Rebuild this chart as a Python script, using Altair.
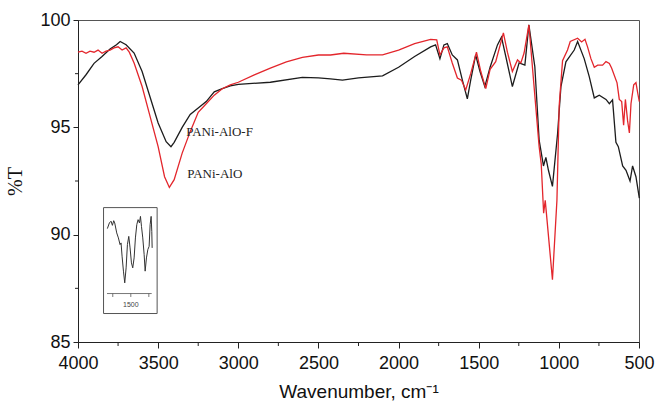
import altair as alt
import pandas as pd

# ---------------- data ----------------
black_wn = [4000, 3950, 3900, 3850, 3800, 3760, 3737, 3700, 3650, 3600, 3550, 3500, 3450, 3420, 3400,
            3350, 3300, 3250, 3200, 3150, 3100, 3050, 3000, 2800, 2600, 2500, 2425, 2350, 2250, 2100,
            2000, 1900, 1800, 1769, 1742, 1717, 1696, 1665, 1633, 1602, 1571, 1550, 1519, 1492, 1462,
            1429, 1383, 1358, 1331, 1290, 1248, 1212, 1187, 1150, 1123, 1096, 1081, 1065, 1040, 1008,
            987, 956, 904, 883, 842, 810, 779, 748, 706, 685, 665, 644, 629, 602, 581, 556, 540, 519, 498]
black_t = [96.98, 97.45, 97.98, 98.3, 98.65, 98.85, 99.0, 98.85, 98.46, 97.6, 96.4, 95.2, 94.33, 94.1, 94.3,
           95.0, 95.6, 95.9, 96.2, 96.65, 96.8, 96.93, 97.0, 97.1, 97.33, 97.3, 97.26, 97.2, 97.3, 97.4,
           97.8, 98.3, 98.75, 98.84, 98.2, 98.84, 98.9, 98.37, 98.14, 97.2, 96.33, 97.2, 98.37, 97.6, 96.9,
           97.8, 98.84, 99.2, 98.3, 96.9, 98.0, 97.9, 99.77, 97.83, 94.4, 93.2, 93.6, 93.0, 92.25, 94.7,
           96.9, 98.05, 98.6, 99.0, 98.2, 97.35, 96.37, 96.5, 96.3, 96.1, 96.28, 94.3, 94.1, 93.2, 93.0,
           92.5, 93.2, 92.7, 91.7]

red_wn = [4000, 3975, 3950, 3925, 3900, 3875, 3850, 3825, 3800, 3775, 3750, 3725, 3700, 3680, 3650,
          3600, 3550, 3500, 3460, 3430, 3400, 3350, 3300, 3250, 3200, 3150, 3100, 3050, 3000, 2900,
          2800, 2700, 2600, 2500, 2425, 2342, 2200, 2100, 2000, 1900, 1800, 1762, 1742, 1717, 1696,
          1665, 1633, 1608, 1581, 1550, 1514, 1487, 1456, 1429, 1394, 1346, 1321, 1290, 1258, 1237,
          1217, 1187, 1123, 1110, 1095, 1085, 1040, 1012, 998, 977, 946, 929, 883, 858, 837, 821,
          800, 779, 758, 727, 706, 685, 671, 637, 623, 608, 596, 585, 571, 560, 550, 533, 519, 508, 498]
red_t = [98.5, 98.55, 98.45, 98.55, 98.5, 98.6, 98.45, 98.55, 98.6, 98.7, 98.75, 98.6, 98.7, 98.5, 98.0,
         96.9, 95.5, 94.1, 92.7, 92.2, 92.56, 93.8, 94.8, 95.7, 96.1, 96.5, 96.8, 96.98, 97.1, 97.44,
         97.76, 98.05, 98.26, 98.37, 98.37, 98.45, 98.38, 98.38, 98.6, 98.9, 99.1, 99.07, 98.37, 98.7, 98.75,
         98.0, 97.3, 97.2, 96.74, 97.5, 98.5, 97.6, 96.8, 97.7, 98.06, 99.4, 98.5, 97.6, 98.14, 98.0,
         98.46, 99.77, 94.1, 93.3, 91.0, 91.6, 87.9, 91.6, 96.0, 98.1, 98.6, 99.0, 99.15, 98.98, 99.1, 98.75,
         98.2, 97.8, 97.9, 97.9, 98.06, 97.98, 97.76, 97.07, 96.3, 96.2, 95.1, 96.3, 95.3, 94.74, 96.1,
         96.98, 97.08, 96.6, 96.2]

# inset spectrum (its own wavenumber / %T units)
inset_wn = [1825, 1797, 1774, 1755, 1737, 1723, 1695, 1672, 1649, 1635, 1621, 1602, 1584, 1565, 1547, 1528,
            1510, 1491, 1473, 1454, 1436, 1417, 1399, 1380, 1366, 1352, 1334, 1315, 1301, 1283, 1264, 1246,
            1232, 1218, 1209, 1204]
inset_t = [99.13, 99.46, 99.56, 99.32, 99.59, 99.46, 98.88, 98.59, 98.2, 98.3, 97.53, 96.66, 95.98, 96.85,
           98.2, 98.68, 98.01, 97.14, 96.85, 97.43, 98.59, 99.36, 99.65, 99.46, 99.84, 99.26, 98.59, 97.62,
           96.66, 97.43, 97.91, 98.1, 99.36, 99.84, 98.97, 98.01]
inset_box_wn = [1878, 1135]
inset_box_t = [100.35, 94.2]
inset_axis_t = 95.36
inset_axis_wn = [1830, 1210]
inset_ticks = [1750, 1500, 1250]
inset_label = "1500"

x_major = [4000, 3500, 3000, 2500, 2000, 1500, 1000, 500]
x_minor = [3750, 3250, 2750, 2250, 1750, 1250, 750]
y_major = [85, 90, 95, 100]
y_minor = [87.5, 92.5, 97.5]

labels = ["PANi-AlO-F", "PANi-AlO"]
label_wn = [3325, 3319]
label_t = [94.79, 92.84]

# placement of the inset inside the main axes (inset units -> main units)
IX0, IXS = 3670.6, 0.45     # main wavenumber at inset 1500, scale
IY0, IYS = 90.98, 0.8023    # main %T at inset 100, scale


def ix(w):
    return IX0 - IXS * (1500 - w)


def iy(t):
    return IY0 - IYS * (100 - t)


# ---------------- chart ----------------
W, H = 561, 322
xs = alt.Scale(domain=[4000, 500], nice=False)
ys = alt.Scale(domain=[85, 100], nice=False)

df = pd.concat([
    pd.DataFrame({"wn": black_wn, "t": black_t, "s": "PANi-AlO-F", "o": range(len(black_wn))}),
    pd.DataFrame({"wn": red_wn, "t": red_t, "s": "PANi-AlO", "o": range(len(red_wn))}),
])

lines = alt.Chart(df).mark_line(strokeWidth=1.3).encode(
    x=alt.X("wn:Q", scale=xs,
            axis=alt.Axis(values=x_major, format="d", title="Wavenumber, cm⁻¹", grid=False, tickSize=6,
                          labelFontSize=18, labelFont="Liberation Sans", labelPadding=6,
                          labelFlush=False, labelOverlap=False,
                          titleFont="Liberation Sans", titleFontSize=19, titleFontWeight="normal",
                          titlePadding=10, domainColor="#222", tickColor="#222", labelColor="#111",
                          titleColor="#111")),
    y=alt.Y("t:Q", scale=ys,
            axis=alt.Axis(values=y_major, format="d", title="%T", grid=False, tickSize=5,
                          labelFontSize=18, labelFont="Liberation Sans", labelPadding=3,
                          labelFlush=False, labelOverlap=False,
                          titleFont="Liberation Serif", titleFontSize=20, titleFontWeight="normal",
                          titlePadding=14, domainColor="#222", tickColor="#222", labelColor="#111",
                          titleColor="#111")),
    color=alt.Color("s:N", scale=alt.Scale(domain=["PANi-AlO-F", "PANi-AlO"],
                                           range=["#1c1c1c", "#e3262c"]), legend=None),
    order="o:Q",
)

ymin_df = pd.DataFrame({"t": y_minor})
ymin = alt.Chart(ymin_df).mark_rule(color="#222").encode(
    y=alt.Y("t:Q", scale=ys), x=alt.value(-3), x2=alt.value(0))
xmin_df = pd.DataFrame({"wn": x_minor})
xmin = alt.Chart(xmin_df).mark_rule(color="#222").encode(
    x=alt.X("wn:Q", scale=xs), y=alt.value(H), y2=alt.value(H + 4))

lab_df = pd.DataFrame({"wn": label_wn, "t": label_t, "txt": labels})
labs = alt.Chart(lab_df).mark_text(align="left", baseline="middle", font="Liberation Serif",
                                   fontSize=13, color="#222").encode(
    x=alt.X("wn:Q", scale=xs), y=alt.Y("t:Q", scale=ys), text="txt:N")

# inset
box_df = pd.DataFrame({"x": [ix(inset_box_wn[0])], "x2": [ix(inset_box_wn[1])],
                       "y": [iy(inset_box_t[0])], "y2": [iy(inset_box_t[1])]})
box = alt.Chart(box_df).mark_rect(fill="white", stroke="#555", strokeWidth=1).encode(
    x=alt.X("x:Q", scale=xs), x2="x2:Q", y=alt.Y("y:Q", scale=ys), y2="y2:Q")

ins_df = pd.DataFrame({"x": [ix(w) for w in inset_wn], "y": [iy(t) for t in inset_t],
                       "o": range(len(inset_wn))})
ins = alt.Chart(ins_df).mark_line(color="#333", strokeWidth=1).encode(
    x=alt.X("x:Q", scale=xs), y=alt.Y("y:Q", scale=ys), order="o:Q")

iax_df = pd.DataFrame({"x": [ix(inset_axis_wn[0])], "x2": [ix(inset_axis_wn[1])],
                       "y": [iy(inset_axis_t)]})
iax = alt.Chart(iax_df).mark_rule(color="#555", strokeWidth=0.8).encode(
    x=alt.X("x:Q", scale=xs), x2="x2:Q", y=alt.Y("y:Q", scale=ys))
itk_df = pd.DataFrame({"x": [ix(w) for w in inset_ticks], "y": [iy(inset_axis_t)] * 3,
                       "y2": [iy(inset_axis_t - 0.2)] * 3})
itk = alt.Chart(itk_df).mark_rule(color="#555", strokeWidth=0.8).encode(
    x=alt.X("x:Q", scale=xs), y=alt.Y("y:Q", scale=ys), y2="y2:Q")
itx_df = pd.DataFrame({"x": [ix(1500)], "y": [iy(inset_axis_t - 0.64)], "txt": [inset_label]})
itx = alt.Chart(itx_df).mark_text(fontSize=7, font="Liberation Sans", color="#444",
                                  baseline="middle").encode(
    x=alt.X("x:Q", scale=xs), y=alt.Y("y:Q", scale=ys), text="txt:N")

chart = alt.layer(box, ins, iax, itk, itx, lines, labs, ymin, xmin).properties(
    width=W, height=H,
    autosize=alt.AutoSizeParams(type="none"),
    padding={"left": 78, "top": 20, "right": 16, "bottom": 61},
    background="white",
).configure_view(stroke="#555", strokeWidth=1)

chart.save("out.html", embed_options={"renderer": "svg", "actions": False})
